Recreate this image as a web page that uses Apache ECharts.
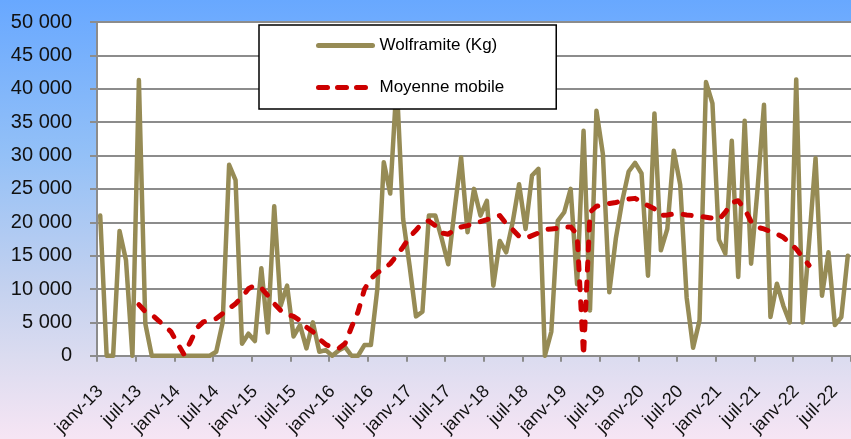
<!DOCTYPE html>
<html>
<head>
<meta charset="utf-8">
<script src="https://cdn.jsdelivr.net/npm/echarts@6/dist/echarts.min.js"></script>
<style>
html,body{margin:0;padding:0;}
#c{width:851px;height:439px;}
</style>
</head>
<body>
<div id="c"></div>
<script>
// Month labels (French), janv-13 .. sept-22
var monthNames = ['janv','févr','mars','avr','mai','juin','juil','août','sept','oct','nov','déc'];
var years = ['13','14','15','16','17','18','19','20','21','22'];
var lastYearMonths = 9; // data ends sept-22

// Wolframite (Kg), monthly
var wolframite = [
 21000, 0, 0, 18700, 14300, 0, 41300, 4800, 0, 0, 0, 0,
 0, 0, 0, 0, 0, 0, 600, 5000, 28600, 26300, 1800, 3300,
 2200, 13100, 3500, 22400, 7500, 10500, 2900, 4600, 1100, 5000, 600, 850,
 0, 800, 1300, 0, 0, 1600, 1600, 10000, 29000, 24300, 41000, 20500,
 13500, 5900, 6600, 21000, 21000, 17500, 13700, 22000, 29700, 18500, 25000, 21000,
 23200, 10500, 17200, 15500, 20000, 25700, 19000, 27000, 28000, 0, 3600, 20200,
 21500, 25000, 10700, 33700, 6800, 36700, 30200, 9500, 17500, 23200, 27600, 28900,
 27300, 12000, 36300, 15800, 19000, 30700, 25600, 8700, 1200, 5300, 41000, 37800,
 17400, 15300, 32200, 11800, 35200, 13800, 25000, 37600, 5800, 10800, 7500, 5000,
 41400, 5000, 17000, 29600, 9000, 15500, 4600, 5800, 15000
];

// Moyenne mobile
var movingAvg = [
 null, null, null, null, null, null, 7660, 6600, 6170, 5300, 4480, 3580,
 1840, 200, 2100, 4180, 5070, 5320, 5570, 6300, 7060, 7800, 8800, 10050,
 10550, 10150, 9050, 7800, 6800, 6200, 5900, 5300, 4300, 3600, 2500, 1700,
 1200, 1100, 1850, 4300, 6570, 9950, 11550, 12450, 13000, 13800, 15000, 16300,
 17800, 18800, 19900, 20200, 19500, 18400, 18200, 18900, 19300, 19500, 19900, 20100,
 20400, 20750, 21000, 19800, 18900, 17900, 17600, 18000, 18400, 18900, 19000, 19100,
 19300, 19300, 18200, 0, 21500, 22400, 22600, 22800, 22960, 23200, 23480, 23580,
 23080, 22500, 22000, 21000, 21100, 21250, 21250, 21100, 21000, 20900, 20750, 20600,
 20400, 21500, 22900, 23230, 22000, 20100, 19250, 19000, 18600, 18250, 17750, 16900,
 16000, 14750, 13550, null, null, null, null, null, null
];

var yTicks = {min: 0, max: 50000, step: 5000};

var categories = [];
years.forEach(function (y, yi) {
  var n = (yi === years.length - 1) ? lastYearMonths : 12;
  for (var m = 0; m < n; m++) categories.push(monthNames[m] + '-' + y);
});

function fmt(v) {
  return String(v).replace(/\B(?=(\d{3})+(?!\d))/g, ' ');
}

var FONT = '"Liberation Sans", Arial, sans-serif';
var GRAY = '#8c8c8c';
var OLIVE = '#968b55';
var RED = '#cc0000';

var chart = echarts.init(document.getElementById('c'), null, {renderer: 'canvas'});
chart.setOption({
  animation: false,
  backgroundColor: {
    type: 'linear', x: 0, y: 0, x2: 0, y2: 1,
    colorStops: [
      {offset: 0, color: '#68a8ff'},
      {offset: 0.35, color: '#93c0f7'},
      {offset: 0.65, color: '#c3d1ef'},
      {offset: 0.82, color: '#dcdcf0'},
      {offset: 1, color: '#f6e5f4'}
    ]
  },
  textStyle: {fontFamily: FONT},
  grid: {
    left: 97, top: 22, bottom: 82, right: -7,
    show: true, backgroundColor: '#ffffff', borderWidth: 0,
    containLabel: false
  },
  legend: {
    orient: 'vertical',
    left: 259, top: 25,
    z: 20,
    itemWidth: 54, itemHeight: 14, itemGap: 25,
    padding: [12, 52, 13, 57],
    backgroundColor: '#ffffff',
    borderColor: '#000000', borderWidth: 1.5, borderRadius: 0,
    itemStyle: {color: 'rgba(0,0,0,0)', borderColor: 'rgba(0,0,0,0)', borderWidth: 0, opacity: 0},
    textStyle: {fontSize: 17, color: '#000', fontFamily: FONT, padding: [0, 0, 0, 2]},
    data: [
      {name: 'Wolframite (Kg)', lineStyle: {color: OLIVE, width: 5, cap: 'round'}},
      {name: 'Moyenne mobile', lineStyle: {color: RED, width: 5, type: [9, 10], cap: 'round'}}
    ]
  },
  xAxis: {
    type: 'category',
    data: categories,
    boundaryGap: true,
    axisLine: {show: true, lineStyle: {color: GRAY, width: 2}},
    axisTick: {show: true, interval: 5, length: 6, lineStyle: {color: GRAY, width: 2}},
    axisLabel: {
      interval: 5, rotate: 45, fontSize: 18, color: '#111', margin: 33,
      fontFamily: FONT
    },
    splitLine: {show: false}
  },
  yAxis: {
    type: 'value',
    min: yTicks.min, max: yTicks.max, interval: yTicks.step,
    axisLine: {show: true, lineStyle: {color: GRAY, width: 2}},
    axisTick: {show: true, length: 7, lineStyle: {color: GRAY, width: 2}},
    axisLabel: {fontSize: 20, color: '#111', margin: 25, formatter: fmt, fontFamily: FONT},
    splitLine: {show: true, lineStyle: {color: GRAY, width: 2}}
  },
  series: [
    {
      name: 'Wolframite (Kg)', type: 'line', data: wolframite,
      symbol: 'none', showSymbol: false,
      lineStyle: {color: OLIVE, width: 4.5, cap: 'round', join: 'round'},
      itemStyle: {color: OLIVE},
      z: 2
    },
    {
      name: 'Moyenne mobile', type: 'line', data: movingAvg,
      symbol: 'none', showSymbol: false, connectNulls: false,
      lineStyle: {color: RED, width: 5, type: [8, 12], cap: 'round', join: 'round'},
      itemStyle: {color: RED},
      z: 3
    }
  ]
});
</script>
</body>
</html>
